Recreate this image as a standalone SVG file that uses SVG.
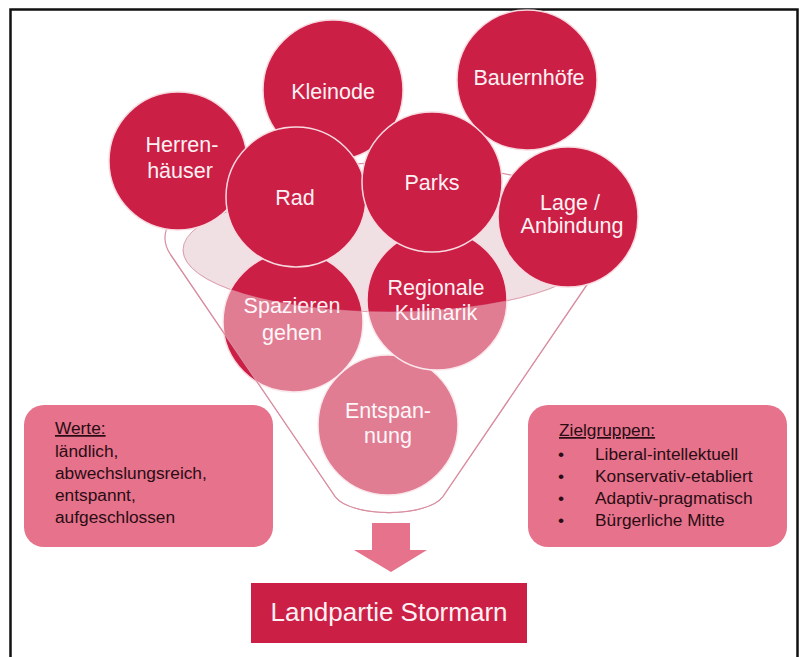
<svg xmlns="http://www.w3.org/2000/svg" width="801" height="657" viewBox="0 0 801 657">
  <style>
    .ball { fill: #cc1f46; stroke: #f7d9df; stroke-width: 1.5; }
    .ball-text { font-family: "Liberation Sans", Arial, sans-serif; font-size: 21.5px; fill: #fdf1f4; text-anchor: middle; }
    .box { fill: #e6728b; }
    .box-text { font-family: "Liberation Sans", Arial, sans-serif; font-size: 17.3px; fill: #2a0c14; }
    .title-text { font-family: "Liberation Sans", Arial, sans-serif; font-size: 26px; fill: #fdf1f4; text-anchor: middle; }
  </style>

  <!-- frame -->
  <rect x="10.5" y="9.5" width="787" height="660" fill="#ffffff" stroke="#111111" stroke-width="2.5"/>

  <!-- funnel, back part -->
  <g id="funnel-back">
    <path d="M170.6 254.6 L335.4 497 A56 22 0 0 0 442.6 497 L607.4 254.6 A224 75 0 1 0 170.6 254.6 Z" fill="#ffffff" stroke="#d98ea0" stroke-width="1.2"/>
    <ellipse cx="389" cy="250" rx="206" ry="62" fill="#f1e0e3" stroke="#d9a3b0" stroke-width="1"/>
  </g>

  <!-- balls in the funnel -->
  <g id="entspannung">
    <circle class="ball" cx="388" cy="425" r="70"/>
    <text class="ball-text" x="388" y="418">Entspan-</text>
    <text class="ball-text" x="388" y="443">nung</text>
  </g>
  <g id="spazieren">
    <circle class="ball" cx="293" cy="322" r="70"/>
    <text class="ball-text" x="292" y="313">Spazieren</text>
    <text class="ball-text" x="292" y="340">gehen</text>
  </g>
  <g id="kulinarik">
    <circle class="ball" cx="437" cy="300" r="70"/>
    <text class="ball-text" x="436" y="295">Regionale</text>
    <text class="ball-text" x="436" y="320">Kulinarik</text>
  </g>
  <g id="herrenhaeuser">
    <circle class="ball" cx="178" cy="161" r="69"/>
    <text class="ball-text" x="182" y="152">Herren-</text>
    <text class="ball-text" x="180" y="178">häuser</text>
  </g>
  <g id="kleinode">
    <circle class="ball" cx="333" cy="90" r="70"/>
    <text class="ball-text" x="333" y="99">Kleinode</text>
  </g>
  <g id="bauernhoefe">
    <circle class="ball" cx="527" cy="80" r="70"/>
    <text class="ball-text" x="529" y="85">Bauernhöfe</text>
  </g>
  <g id="rad">
    <circle class="ball" cx="296" cy="197" r="70"/>
    <text class="ball-text" x="295" y="205">Rad</text>
  </g>
  <g id="parks">
    <circle class="ball" cx="432" cy="182" r="70"/>
    <text class="ball-text" x="432" y="190">Parks</text>
  </g>

  <!-- funnel, front part (translucent body over the balls) -->
  <g id="funnel-front">
    <path d="M183 250 A206 62 0 0 0 595 250 L607.4 254.6 L442.6 497 A56 22 0 0 1 335.4 497 L170.6 254.6 Z" fill="#ffffff" fill-opacity="0.42"/>
    <path d="M183 250 A206 62 0 0 0 595 250" fill="none" stroke="#d98ea0" stroke-width="0.8" stroke-opacity="0.6"/>
    <path d="M170.6 254.6 L335.4 497 A56 22 0 0 0 442.6 497 L607.4 254.6" fill="none" stroke="#d98ea0" stroke-width="1.2"/>
  </g>

  <!-- ball resting on the rim, in front of the funnel -->
  <g id="lage">
    <circle class="ball" cx="568" cy="217" r="70"/>
    <text class="ball-text" x="570" y="210">Lage /</text>
    <text class="ball-text" x="572" y="233">Anbindung</text>
  </g>

  <!-- values box -->
  <g id="werte">
    <rect class="box" x="24" y="405" width="249" height="142" rx="20"/>
    <text class="box-text" x="55" y="434" text-decoration="underline">Werte:</text>
    <text class="box-text" x="55" y="457">ländlich,</text>
    <text class="box-text" x="55" y="479">abwechslungsreich,</text>
    <text class="box-text" x="55" y="501">entspannt,</text>
    <text class="box-text" x="55" y="523">aufgeschlossen</text>
  </g>

  <!-- target groups box -->
  <g id="zielgruppen">
    <rect class="box" x="528" y="405" width="259" height="142" rx="20"/>
    <text class="box-text" x="559" y="436" text-decoration="underline">Zielgruppen:</text>
    <text class="box-text" x="558" y="460">•</text>
    <text class="box-text" x="595" y="460">Liberal-intellektuell</text>
    <text class="box-text" x="558" y="482">•</text>
    <text class="box-text" x="595" y="482">Konservativ-etabliert</text>
    <text class="box-text" x="558" y="504">•</text>
    <text class="box-text" x="595" y="504">Adaptiv-pragmatisch</text>
    <text class="box-text" x="558" y="526">•</text>
    <text class="box-text" x="595" y="526">Bürgerliche Mitte</text>
  </g>

  <!-- arrow from the funnel to the result -->
  <g id="connectors">
    <polygon points="372,523 410,523 410,550 427,550 391,572 354,550 372,550" fill="#e6728b"/>
  </g>

  <!-- result -->
  <g id="landpartie">
    <rect x="251" y="583" width="276" height="60" fill="#cc1f46"/>
    <text class="title-text" x="389" y="621">Landpartie Stormarn</text>
  </g>
</svg>
